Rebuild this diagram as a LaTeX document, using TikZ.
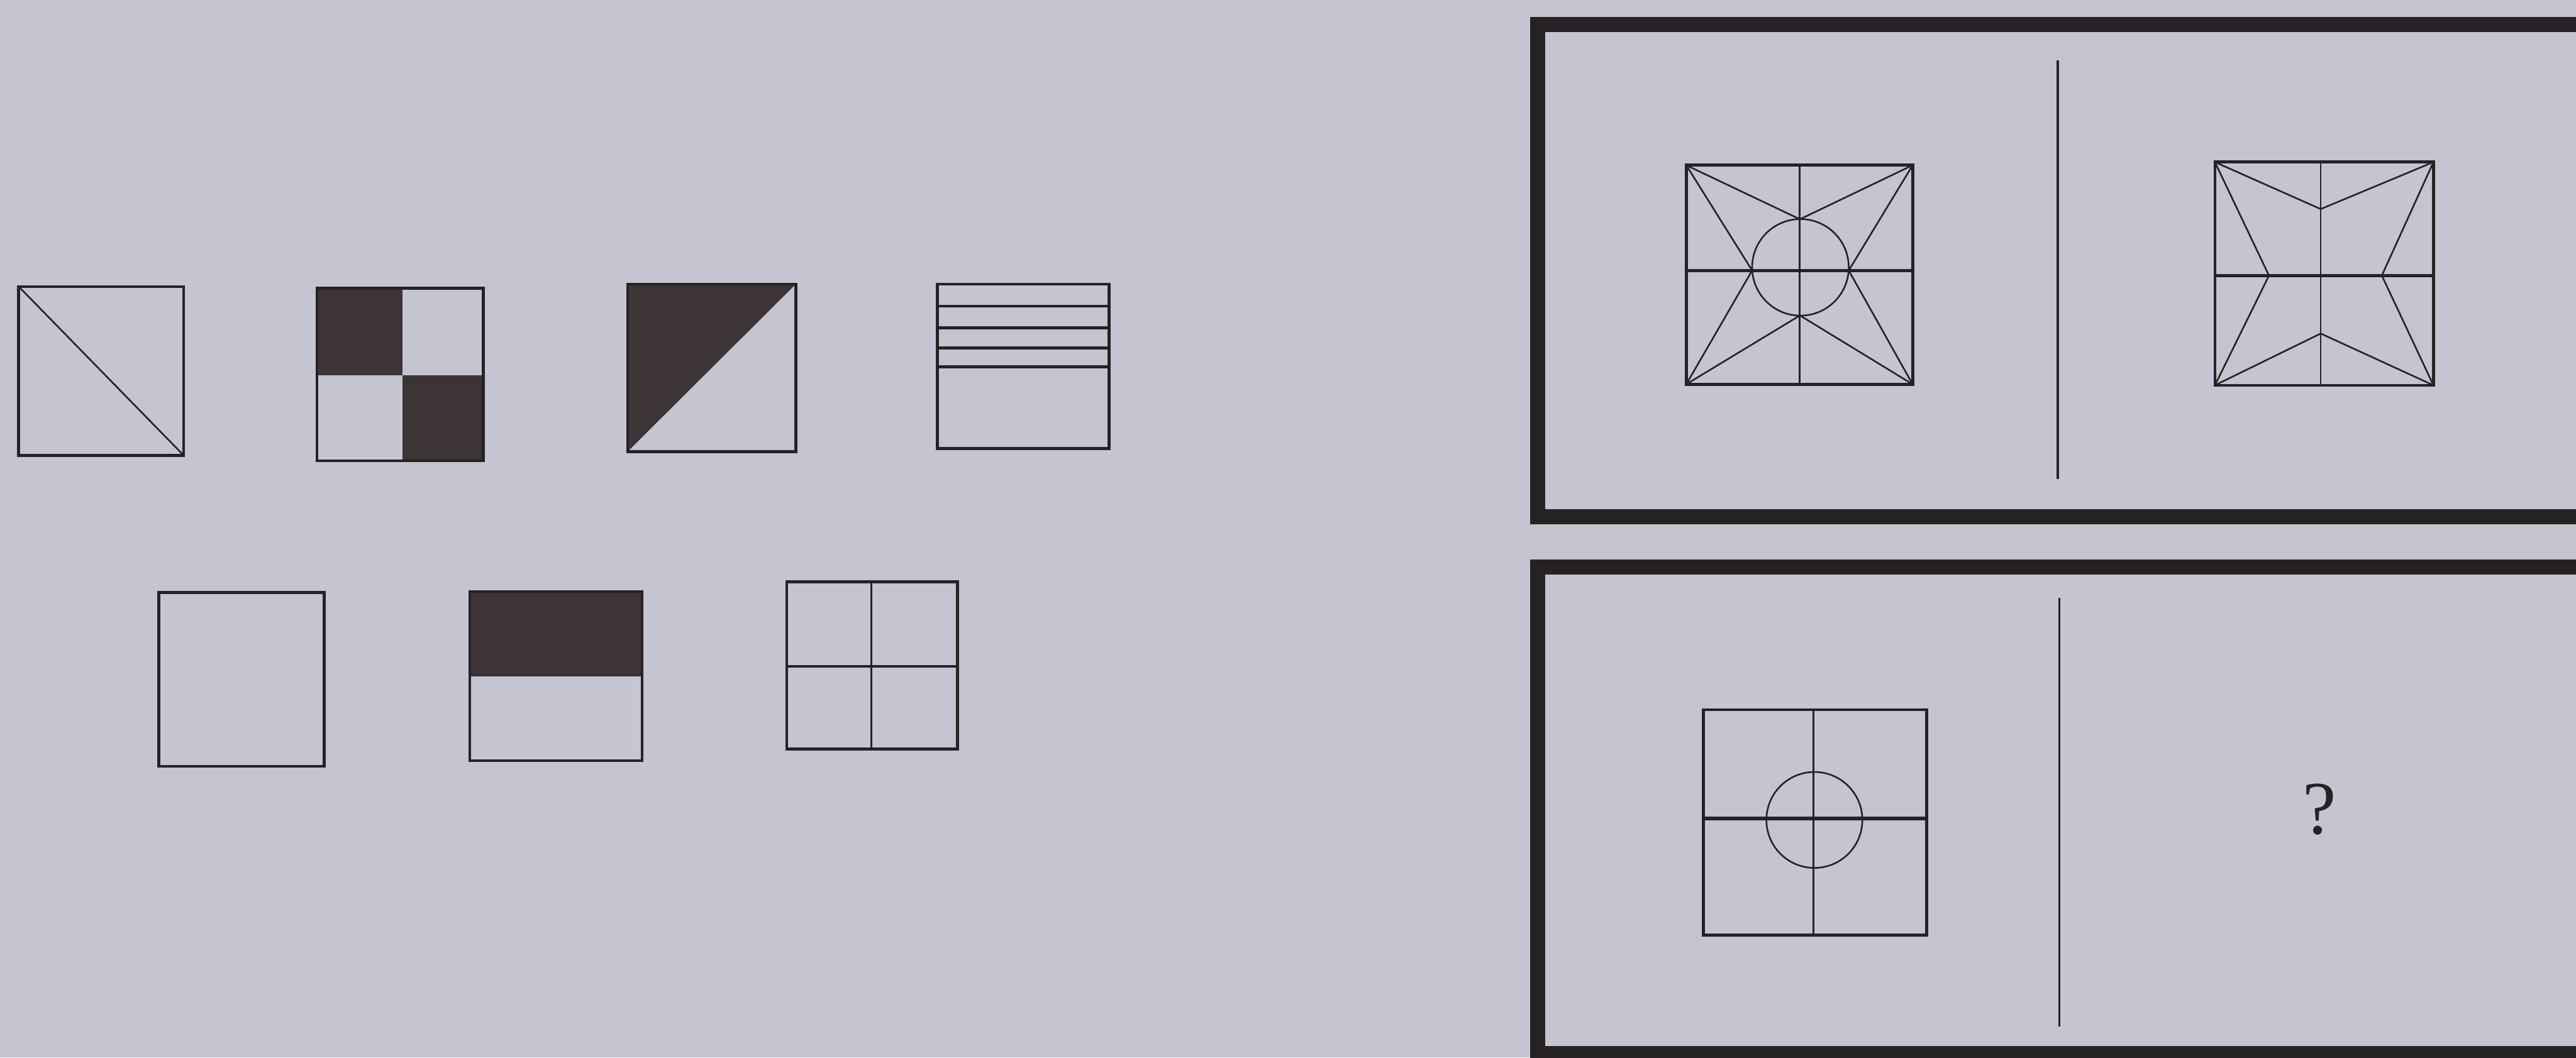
\documentclass[tikz,border=0pt]{standalone}
\usepackage{fontspec}
\setmainfont{Liberation Serif}
\definecolor{bgc}{RGB}{196,197,208}
\definecolor{ink}{RGB}{38,34,36}
\definecolor{darkfill}{RGB}{60,52,55}
\begin{document}
\begin{tikzpicture}[x=0.5pt,y=-0.5pt,
  boxline/.style={draw=ink,line width=0.9pt,line join=miter},
  thinline/.style={draw=ink,line width=0.5pt},
  frameline/.style={draw=ink,line width=4.6pt},
  divider/.style={draw=ink,line width=0.65pt},
  darkpart/.style={fill=darkfill}]
\fill[bgc] (0,0) rectangle (1568,644);
\useasboundingbox (0,0) rectangle (1568,644);
\clip (0,0) rectangle (1568,644);

% ---- left: top row ----
% fig 1: diagonal
\draw[thinline] (11.4,174.5) -- (111.8,277.3);
\draw[boxline] (11.4,174.5) rectangle (111.8,277.3);
% fig 2: checker
\fill[darkpart] (192.9,175.5) rectangle (245,228.5);
\fill[darkpart] (245,228.5) rectangle (294.2,280.6);
\draw[boxline] (192.9,175.5) rectangle (294.2,280.6);
% fig 3: dark triangle
\fill[darkpart] (382,173) -- (484.4,173) -- (382,275) -- cycle;
\draw[boxline] (382,173) rectangle (484.4,275);
% fig 4: lines
\draw[boxline] (570.6,173) rectangle (675,273.2);
\foreach \yy in {186.4,199.5,211.9,223.3}
  \draw[boxline] (570.6,\yy) -- (675,\yy);

% ---- left: bottom row ----
\draw[boxline] (96.7,360.9) rectangle (197.4,466.6);
\fill[darkpart] (286,360.2) rectangle (390.8,411.9);
\draw[boxline] (286,360.2) rectangle (390.8,463.2);
\draw[thinline] (530.4,354.3) -- (530.4,456.1);
\draw[boxline] (478.9,405.8) -- (582.9,405.8);
\draw[boxline] (478.9,354.3) rectangle (582.9,456.1);

% ---- right: top panel ----
\draw[frameline] (1600,15) -- (936,15) -- (936,314.7) -- (1600,314.7);
\draw[divider] (1252.6,36.7) -- (1252.6,291.6);
% figure A
\coordinate (a1) at (1026.4,100.6);
\coordinate (a2) at (1164.2,100.6);
\coordinate (a3) at (1164.2,234);
\coordinate (a4) at (1026.4,234);
\coordinate (at) at (1095.6,133.5);
\coordinate (ab) at (1095.6,192.1);
\coordinate (al) at (1066.5,164.7);
\coordinate (ar) at (1125.3,164.7);
\draw[thinline] (a1) -- (at) -- (a2);
\draw[thinline] (a4) -- (ab) -- (a3);
\draw[thinline] (a1) -- (al) -- (a4);
\draw[thinline] (a2) -- (ar) -- (a3);
\draw[thinline] (1095.9,162.8) circle[radius=29.4];
\draw[thinline] (1095.3,100.6) -- (1095.3,234);
\draw[boxline] (1026.4,164.7) -- (1164.2,164.7);
\draw[boxline] (a1) rectangle (a3);
% figure B
\coordinate (b1) at (1348.2,98.7);
\coordinate (b2) at (1481.2,98.7);
\coordinate (b3) at (1481.2,234.6);
\coordinate (b4) at (1348.2,234.6);
\coordinate (bt) at (1412.6,127.3);
\coordinate (bb) at (1412.6,203.1);
\coordinate (bl) at (1381.1,167.8);
\coordinate (br) at (1449.8,167.8);
\draw[thinline] (b1) -- (bt) -- (b2);
\draw[thinline] (b4) -- (bb) -- (b3);
\draw[thinline] (b1) -- (bl) -- (b4);
\draw[thinline] (b2) -- (br) -- (b3);
\draw[thinline] (1412.6,98.7) -- (1412.6,234.6);
\draw[boxline] (1348.2,167.8) -- (1481.2,167.8);
\draw[boxline] (b1) rectangle (b3);

% ---- right: bottom panel ----
\draw[frameline] (1600,345.4) -- (936,345.4) -- (936,641.5) -- (1600,641.5);
\draw[divider] (1253.4,364) -- (1253.4,625);
% figure C
\draw[thinline] (1104.4,499.3) circle[radius=29.2];
\draw[thinline] (1103.9,432.2) -- (1103.9,569.3);
\draw[line width=1.1pt,draw=ink] (1036.7,498.5) -- (1172.8,498.5);
\draw[boxline] (1036.7,432.2) rectangle (1172.8,569.3);
\node[text=ink,inner sep=0pt,font=\fontsize{23}{27}\selectfont] (q) at (1412,493) {?};
\end{tikzpicture}
\end{document}
